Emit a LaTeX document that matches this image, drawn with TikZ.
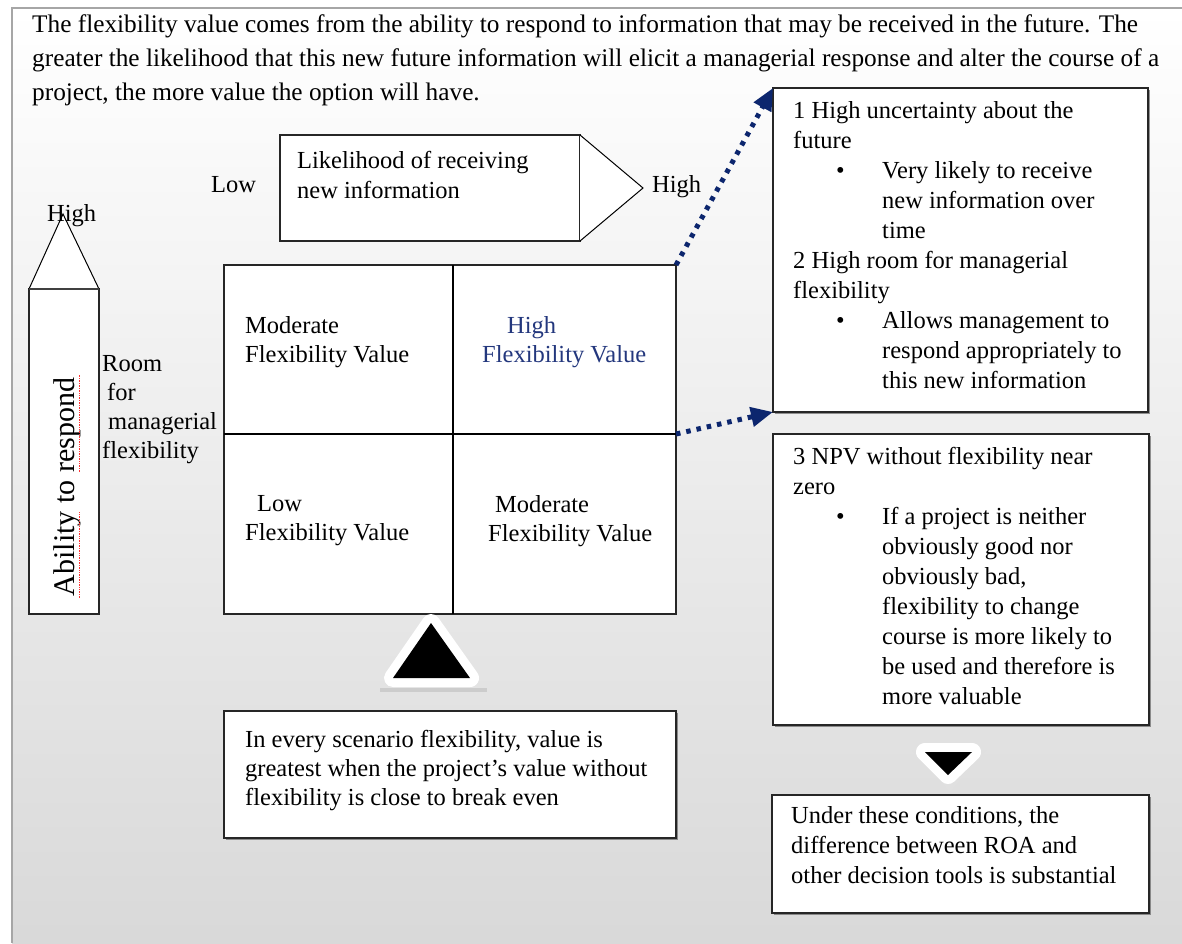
\documentclass[tikz,border=0pt]{standalone}
\usepackage{fontspec}
\setmainfont{Liberation Serif}
\usepackage{xcolor}
\usepackage{tikz}
\usetikzlibrary{calc}
\usetikzlibrary{arrows.meta,positioning,shadows}

\definecolor{flownavy}{RGB}{12,38,110}
\definecolor{cellblue}{RGB}{35,55,125}
\newcommand{\bodysize}{\fontsize{24.5pt}{30pt}\selectfont}
\newcommand{\cellsize}{\fontsize{24.5pt}{29pt}\selectfont}
\newcommand{\bul}{\hspace*{43pt}\makebox[46pt][l]{\textbullet}}
\newcommand{\ind}{\hspace*{89pt}}

\tikzset{
	outline/.style={draw=black!85, line width=1.3pt, fill=white, inner sep=0pt, outer sep=0pt, anchor=north west},
	box/.style={outline, drop shadow={shadow xshift=1.5pt, shadow yshift=-1.5pt, fill=black!60, opacity=0.7}},
	txt/.style={anchor=north west, inner sep=0pt, align=left, font=\bodysize, execute at begin node=\strut},
	lbl/.style={anchor=base west, inner sep=0pt, font=\bodysize},
	flow/.style={flownavy, line width=5pt, dash pattern=on 4.5pt off 6pt, -{Triangle[length=22pt,width=19pt]}},
	halo/.style={fill=white, draw=white, line width=18pt, line join=round},
}

\begin{document}
\begin{tikzpicture}[x=1pt,y=-1pt]
	\useasboundingbox (0,0) rectangle (1182,943);
	% page
	\fill[white] (0,0) rectangle (1182,943);
	\shade[top color=white, bottom color=black!15] (12,8) rectangle (1182,943);
	\draw[black!35, line width=1.2pt] (12,943) -- (12,8) -- (1182,8);

	\node[txt, font=\fontsize{25.3pt}{34pt}\selectfont] (intro) at (32,14) {The flexibility value comes from the ability to respond to information that may be received in the future. The\\greater the likelihood that this new future information will elicit a managerial response and alter the course of a\\project, the more value the option will have.};

	% horizontal arrow
	\node[outline, minimum width=300pt, minimum height=106pt] (likely) at (280,135) {};
	\coordinate (likelyTip) at (643,188);
	\draw[line width=1pt, fill=white] (likely.north east) -- (likelyTip) -- (likely.south east);
	\node[txt] (likelyTxt) at (297,151) {Likelihood of receiving\\new information};
	\node[lbl] (lowX) at (211,192) {Low};
	\node[lbl] (highX) at (652,192) {High};

	% vertical arrow
	\node[outline, minimum width=70pt, minimum height=325pt] (ability) at (29,289) {};
	\coordinate (abilityTip) at (63,214);
	\draw[line width=1pt, fill=white] (ability.north west) -- (abilityTip) -- (ability.north east);
	\draw[black!75, line width=1.8pt] (ability.north west) -- (ability.north east);
	\node[lbl] (highY) at (47,221) {High};
	\node[rotate=90, inner sep=0pt, font=\fontsize{30pt}{36pt}\selectfont] (abilityTxt) at (67,487) {Ability to respond};
	\draw[red!80, densely dotted, line width=0.7pt] (79,598) -- (79,512);
	\draw[red!80, densely dotted, line width=0.7pt] (79,472) -- (79,375);
	\node[txt, font=\cellsize] (room) at (102,355) {Room\\\hspace*{5pt}for\\\hspace*{6pt}managerial\\flexibility};

	% matrix
	\node[outline, minimum width=452pt, minimum height=349pt] (grid) at (224,265) {};
	\coordinate (gmid) at (453,434);
	\draw[line width=1.3pt] (gmid |- grid.north) -- (gmid |- grid.south);
	\draw[line width=1.3pt] (gmid -| grid.west) -- (gmid -| grid.east);
	\node[txt, font=\cellsize] (cellTL) at (245,316) {Moderate\\Flexibility Value};
	\node[txt, font=\cellsize, text=cellblue] (cellTR) at (482,316) {\hspace*{25pt}High\\Flexibility Value};
	\node[txt, font=\cellsize] (cellBL) at (245,495) {\hspace*{12pt}Low\\Flexibility Value};
	\node[txt, font=\cellsize] (cellBR) at (488,495) {\hspace*{7pt}Moderate\\Flexibility Value};

	% conditions
	\node[box, minimum width=375pt, minimum height=324pt] (box1) at (773,88) {};
	\node[txt] (box1Txt) at (793,101) {1 High uncertainty about the\\future\\\bul Very likely to receive\\\ind new information over\\\ind time\\2 High room for managerial\\flexibility\\\bul Allows management to\\\ind respond appropriately to\\\ind this new information};
	\node[box, minimum width=376pt, minimum height=291pt] (box2) at (773,434) {};
	\node[txt] (box2Txt) at (793,447) {3 NPV without flexibility near\\zero\\\bul If a project is neither\\\ind obviously good nor\\\ind obviously bad,\\\ind flexibility to change\\\ind course is more likely to\\\ind be used and therefore is\\\ind more valuable};
	\node[box, minimum width=377pt, minimum height=118pt] (box3) at (772,795) {};
	\node[txt] (box3Txt) at (791,806) {Under these conditions, the\\difference between ROA and\\other decision tools is substantial};
	\node[box, minimum width=452pt, minimum height=127pt] (box4) at (224,711) {};
	\node[txt, font=\cellsize] (box4Txt) at (245,730) {In every scenario flexibility, value is\\greatest when the project’s value without\\flexibility is close to break even};

	\draw[flow] (grid.north east) -- (box1.north west);
	\draw[flow] (gmid -| grid.east) -- (box1.south west);

	% pointers
	\fill[black!20] (380,688) rectangle (487,692);
	\draw[halo] (393,678) -- (470,678) -- (431,623) -- cycle;
	\fill[black] (393,678) -- (470,678) -- (431,623) -- cycle;
	\fill[black!12] (912,750) -- (986,750) -- (950,792) -- cycle;
	\draw[halo] (925,752) -- (972,752) -- (948,775) -- cycle;
	\fill[black] (925,752) -- (972,752) -- (948,775) -- cycle;
\end{tikzpicture}
\end{document}
